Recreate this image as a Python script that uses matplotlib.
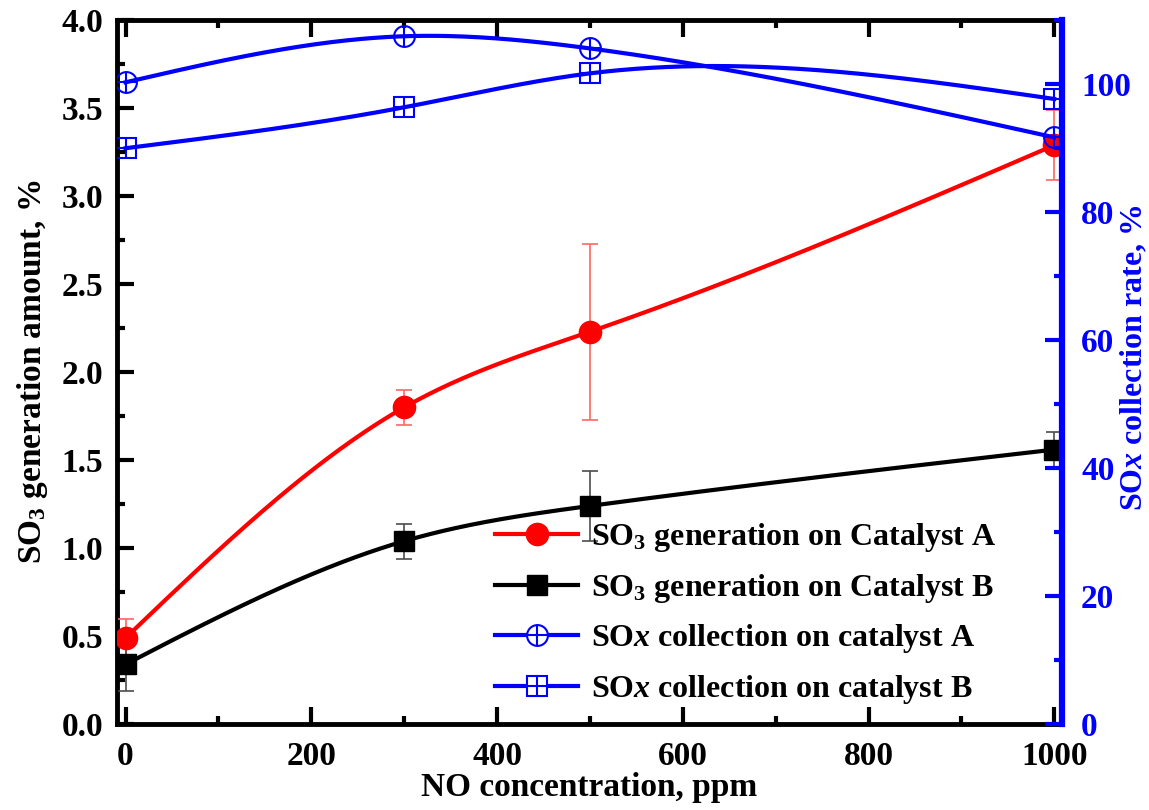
import numpy as np
import matplotlib
matplotlib.use("Agg")
import matplotlib.pyplot as plt
from matplotlib.lines import Line2D
from matplotlib.legend_handler import HandlerTuple
from matplotlib.ticker import MultipleLocator, FormatStrFormatter

plt.rcParams['font.family'] = ['Liberation Serif', 'DejaVu Serif']
plt.rcParams['font.weight'] = 'bold'
plt.rcParams['mathtext.fontset'] = 'custom'
plt.rcParams['mathtext.rm'] = 'Liberation Serif:bold'
plt.rcParams['mathtext.it'] = 'Liberation Serif:bold:italic'
plt.rcParams['mathtext.bf'] = 'Liberation Serif:bold'

# data
no_ppm = [0, 300, 500, 1000]
so3_cat_a = [0.49, 1.80, 2.23, 3.29]
so3_cat_a_err = [0.11, 0.10, 0.50, 0.20]
so3_cat_b = [0.34, 1.04, 1.24, 1.56]
so3_cat_b_err = [0.15, 0.10, 0.20, 0.10]
sox_cat_a = [100.3, 107.5, 105.6, 91.7]
sox_cat_b = [90.0, 96.4, 101.7, 97.7]


def smooth(x, y, n=300):
    # natural cubic spline through the points, only for the drawn line
    x = np.asarray(x, float)
    y = np.asarray(y, float)
    k = len(x)
    h = np.diff(x)
    A = np.zeros((k, k))
    r = np.zeros(k)
    A[0, 0] = A[-1, -1] = 1
    for i in range(1, k - 1):
        A[i, i - 1] = h[i - 1]
        A[i, i] = 2 * (h[i - 1] + h[i])
        A[i, i + 1] = h[i]
        r[i] = 6 * ((y[i + 1] - y[i]) / h[i] - (y[i] - y[i - 1]) / h[i - 1])
    M = np.linalg.solve(A, r)
    xs = np.linspace(x[0], x[-1], n)
    idx = np.clip(np.searchsorted(x, xs) - 1, 0, k - 2)
    x0, x1 = x[idx], x[idx + 1]
    hh = x1 - x0
    a = (x1 - xs) / hh
    b = (xs - x0) / hh
    ys = a * y[idx] + b * y[idx + 1] + ((a ** 3 - a) * M[idx] + (b ** 3 - b) * M[idx + 1]) * hh ** 2 / 6
    return xs, ys


fig, ax = plt.subplots(figsize=(11.49, 8.10), dpi=100)
fig.subplots_adjust(left=0.102, right=0.924, top=0.975, bottom=0.106)
ax2 = ax.twinx()

# left axis: SO3 generation
xs, ys = smooth(no_ppm, so3_cat_a)
ax.plot(xs, ys, color='red', lw=3, zorder=3)
ax.errorbar(no_ppm, so3_cat_a, yerr=so3_cat_a_err, fmt='o', color='red', ms=16,
            ecolor=(1, 0.4, 0.4), elinewidth=1.2, capsize=6, capthick=1.2, zorder=4)
xs, ys = smooth(no_ppm, so3_cat_b)
ax.plot(xs, ys, color='black', lw=3, zorder=3)
ax.errorbar(no_ppm, so3_cat_b, yerr=so3_cat_b_err, fmt='s', color='black', ms=14,
            ecolor=(0.3, 0.3, 0.3), elinewidth=1.2, capsize=6, capthick=1.2, zorder=4)

# right axis: SOx collection
for vals, mk in [(sox_cat_a, 'o'), (sox_cat_b, 's')]:
    xs, ys = smooth(no_ppm, vals)
    ax2.plot(xs, ys, color='blue', lw=3)
    sz = 15 if mk == 'o' else 14
    ax2.plot(no_ppm, vals, mk, mfc='none', mec='blue', mew=1.5, ms=sz)
    ax2.plot(no_ppm, vals, '+', color='blue', mew=1.5, ms=sz)

ax.set_xlim(-9, 1008)
ax.set_ylim(0, 4.0)
ax2.set_ylim(0, 110)

ax.xaxis.set_major_locator(MultipleLocator(200))
ax.xaxis.set_minor_locator(MultipleLocator(100))
ax.yaxis.set_major_locator(MultipleLocator(0.5))
ax.yaxis.set_minor_locator(MultipleLocator(0.25))
ax2.yaxis.set_major_locator(MultipleLocator(20))
ax2.yaxis.set_minor_locator(MultipleLocator(10))
ax.yaxis.set_major_formatter(FormatStrFormatter('%.1f'))

ax.tick_params(which='both', direction='in', top=True, right=False, width=3, labelsize=24)
ax.tick_params(which='major', length=12, pad=10)
ax.tick_params(which='minor', length=6)
ax.tick_params(axis='x', which='major', pad=12)
ax2.tick_params(which='both', direction='in', width=3, colors='blue', labelsize=24)
ax2.tick_params(which='major', length=12, pad=14)
ax2.tick_params(which='minor', length=6)

for s in ['left', 'bottom', 'top']:
    ax.spines[s].set_linewidth(3.5)
ax2.spines['right'].set_linewidth(4.5)
ax2.spines['right'].set_color('blue')
for s in ['left', 'bottom', 'top']:
    ax2.spines[s].set_visible(False)

ax.set_xlabel('NO concentration, ppm', fontsize=24, fontweight='bold', labelpad=0)
ax.set_ylabel('SO$_3$ generation amount, %', fontsize=24, fontweight='bold', labelpad=8)
ax2.set_ylabel('SO$\\mathit{x}$ collection rate, %', fontsize=23, fontweight='bold',
               color='blue')
ax2.yaxis.set_label_coords(1.0605, 0.52)

h1 = Line2D([], [], color='red', lw=3, marker='o', ms=16)
h2 = Line2D([], [], color='black', lw=3, marker='s', ms=14)
h3 = (Line2D([], [], color='blue', lw=3, marker='o', mfc='white', mec='blue', mew=1.5, ms=15),
      Line2D([], [], ls='none', marker='+', color='blue', mew=1.5, ms=15))
h4 = (Line2D([], [], color='blue', lw=3, marker='s', mfc='white', mec='blue', mew=1.5, ms=14),
      Line2D([], [], ls='none', marker='+', color='blue', mew=1.5, ms=14))
labels = ['SO$_3$ generation on Catalyst A', 'SO$_3$ generation on Catalyst B',
          'SO$\\mathit{x}$ collection on catalyst A', 'SO$\\mathit{x}$ collection on catalyst B']
ax2.legend([h1, h2, h3, h4], labels, loc='lower left', bbox_to_anchor=(0.37, -0.015),
           frameon=False, handlelength=2.6, handletextpad=0.4, labelspacing=0.55,
           handler_map={tuple: HandlerTuple(ndivide=1)},
           prop={'weight': 'bold', 'size': 23})

fig.savefig('out.png', dpi=100)
